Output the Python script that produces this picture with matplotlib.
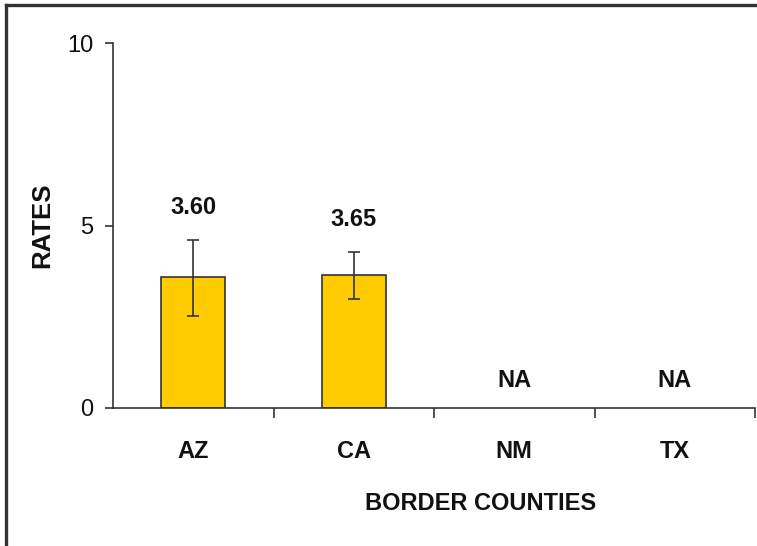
import matplotlib
matplotlib.use("Agg")
import matplotlib.pyplot as plt
from matplotlib.lines import Line2D

# Data
categories = ["AZ", "CA", "NM", "TX"]
rates = [3.60, 3.65, None, None]
ci_low = [2.52, 2.99, None, None]
ci_high = [4.60, 4.28, None, None]
value_labels = ["3.60", "3.65", "NA", "NA"]
y_ticks = [0, 5, 10]

W, H, DPI = 757, 546, 100
plt.rcParams["font.family"] = ["Liberation Sans", "DejaVu Sans"]
FS = 17

fig = plt.figure(figsize=(W / DPI, H / DPI), dpi=DPI)
fig.patch.set_facecolor("white")

left, right, bottom, top = 113, 755, 408, 43
ax = fig.add_axes([left / W, 1 - bottom / H, (right - left) / W, (bottom - top) / H])

bar_color = "#FFCC00"
edge = "#333333"
ink = "#111111"

xs = list(range(len(categories)))
for i, (r, lo, hi) in enumerate(zip(rates, ci_low, ci_high)):
    if r is None:
        continue
    ax.bar(i, r, width=0.4, color=bar_color, edgecolor=edge, linewidth=1.2, zorder=2)
    ax.errorbar(i, r, yerr=[[r - lo], [hi - r]], fmt="none", ecolor=edge,
                elinewidth=1.2, capsize=4.5, capthick=1.2, zorder=3)

# value labels
for i, (r, hi, lab) in enumerate(zip(rates, ci_high, value_labels)):
    base = 0 if r is None else hi
    off = 15 if r is None else 18.5
    ax.annotate(lab, (i, base), xytext=(0, off), textcoords="offset points",
                ha="center", va="baseline", fontsize=FS, fontweight="bold",
                color=ink)

ax.set_xlim(-0.5, len(categories) - 0.5)
ax.set_ylim(0, 10)

ax.set_yticks(y_ticks)
ax.set_yticklabels([str(t) for t in y_ticks], fontsize=FS, color=ink)
ax.tick_params(axis="y", length=6, width=1.2, color=edge, pad=8, direction="out")

# category labels at centres, tick marks at boundaries
ax.set_xticks(xs)
ax.set_xticklabels(categories, fontsize=FS, fontweight="bold", color=ink)
ax.tick_params(axis="x", which="major", length=0, pad=23)
ax.set_xticks([x + 0.5 for x in xs[:-1]] + [len(categories) - 0.5], minor=True)
ax.tick_params(axis="x", which="minor", length=7, width=1.2, color=edge, direction="out")

for s in ("top", "right"):
    ax.spines[s].set_visible(False)
for s in ("left", "bottom"):
    ax.spines[s].set_color(edge)
    ax.spines[s].set_linewidth(1.2)

ax.set_ylabel("RATES", fontsize=18.5, fontweight="bold", color=ink)
ax.yaxis.set_label_coords((54 - left) / (right - left), 0.5)

fig.text(481 / W, 1 - 503 / H, "BORDER COUNTIES", ha="center", va="center",
         fontsize=FS, fontweight="bold", color=ink)

# outer frame (left and top edges)
fig.add_artist(Line2D([6 / W, 6 / W], [0, 1 - 5 / H], transform=fig.transFigure,
                      color="#333333", linewidth=2.4))
fig.add_artist(Line2D([6 / W, 1], [1 - 5 / H, 1 - 5 / H], transform=fig.transFigure,
                      color="#333333", linewidth=2.4))

fig.savefig("out.png", dpi=DPI)
